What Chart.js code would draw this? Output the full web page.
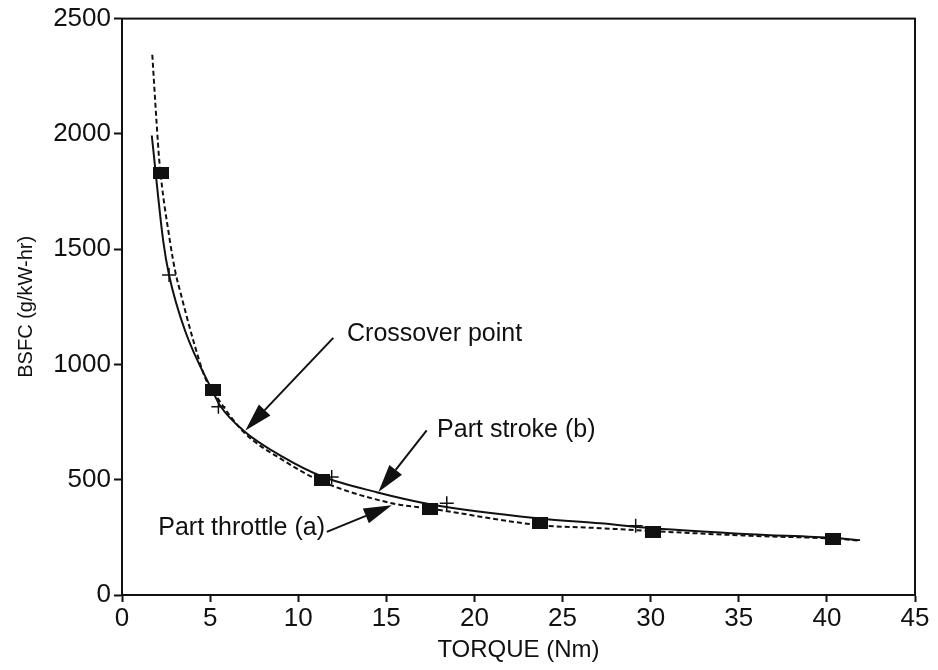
<!DOCTYPE html>
<html>
<head>
<meta charset="utf-8">
<title>BSFC vs Torque</title>
<script src="https://cdn.jsdelivr.net/npm/chart.js@4.4.1/dist/chart.umd.min.js"></script>
<style>
  html, body { margin: 0; padding: 0; background: #ffffff; }
  canvas { display: block; }
</style>
</head>
<body>
<canvas id="chart" width="938" height="670"></canvas>
<script>
// Axis ranges and tick steps
const torqueRange = [0, 45];
const torqueStep = 5;
const bsfcRange = [0, 2500];
const bsfcStep = 500;

// Part stroke (b): fitted curve (solid)
const strokeCurveTorque = [1.69, 2.34, 2.67, 3.58, 5.18, 5.56, 6.88, 9.15, 11.33, 14.45, 17.48, 23.72, 27.13, 30.14, 35.64, 40.47, 41.88];
const strokeCurveBsfc   = [1993, 1535, 1388, 1146, 878, 822, 714, 598, 515, 446, 394, 332, 311, 290, 264, 247, 238];

// Part throttle (a): fitted curve (dashed)
const throttleCurveTorque = [1.72, 1.97, 2.12, 2.72, 3.05, 3.29, 4.05, 4.71, 5.18, 6.88, 9.15, 11.33, 15.31, 17.48, 23.72, 27.13, 30.14, 35.64, 40.47, 41.88];
const throttleCurveBsfc   = [2343, 2040, 1881, 1535, 1393, 1320, 1103, 944, 882, 709, 584, 493, 398, 375, 303, 290, 277, 257, 244, 236];

// Measured points, part throttle (a): filled squares
const throttlePointTorque = [2.21, 5.18, 11.33, 17.48, 23.72, 30.15, 40.37];
const throttlePointBsfc   = [1829, 890, 497, 375, 311, 274, 245];

// Measured points, part stroke (b): plus marks
const strokePointTorque = [2.67, 5.47, 11.9, 18.43, 29.15];
const strokePointBsfc   = [1388, 817, 512, 398, 300];

// Callout labels: text, arrow tail, arrow tip and text anchor (data units)
const calloutText   = ['Crossover point', 'Part stroke (b)', 'Part throttle (a)'];
const calloutTail   = [[11.99, 1115], [17.29, 714], [11.62, 274]];
const calloutTip    = [[7.0, 714], [14.55, 447], [15.31, 389]];
const calloutAnchor = [[12.77, 1133], [17.88, 714], [11.52, 290]];
const calloutAlign  = ['left', 'left', 'right'];

const zip = (xs, ys) => xs.map((x, i) => ({ x: x, y: ys[i] }));

// Wide filled rectangle used as the square marker
const squareMarker = document.createElement('canvas');
squareMarker.width = 16;
squareMarker.height = 12;
(function () {
  const c = squareMarker.getContext('2d');
  c.fillStyle = '#111111';
  c.fillRect(0, 0, 16, 12);
})();

const FONT = '"Liberation Sans", Arial, Helvetica, sans-serif';

const frameAndCallouts = {
  id: 'frameAndCallouts',
  beforeDraw(chart) {
    const ctx = chart.ctx;
    ctx.save();
    ctx.fillStyle = '#ffffff';
    ctx.fillRect(0, 0, chart.width, chart.height);
    ctx.restore();
  },
  afterDatasetsDraw(chart) {
    const ctx = chart.ctx;
    const xs = chart.scales.x, ys = chart.scales.y;
    const a = chart.chartArea;
    ctx.save();
    // plot frame
    ctx.strokeStyle = '#111111';
    ctx.lineWidth = 2;
    ctx.strokeRect(a.left, a.top, a.right - a.left, a.bottom - a.top);

    // arrows and labels
    ctx.fillStyle = '#111111';
    ctx.font = '25px ' + FONT;
    ctx.textBaseline = 'middle';
    for (let i = 0; i < calloutText.length; i++) {
      const tx = xs.getPixelForValue(calloutTail[i][0]);
      const ty = ys.getPixelForValue(calloutTail[i][1]);
      const px = xs.getPixelForValue(calloutTip[i][0]);
      const py = ys.getPixelForValue(calloutTip[i][1]);
      const ang = Math.atan2(py - ty, px - tx);
      const headLen = 28, headHalf = 8;
      const bx = px - headLen * Math.cos(ang);
      const by = py - headLen * Math.sin(ang);
      ctx.lineWidth = 2;
      ctx.beginPath();
      ctx.moveTo(tx, ty);
      ctx.lineTo(bx, by);
      ctx.stroke();
      ctx.beginPath();
      ctx.moveTo(px, py);
      ctx.lineTo(bx + headHalf * Math.sin(ang), by - headHalf * Math.cos(ang));
      ctx.lineTo(bx - headHalf * Math.sin(ang), by + headHalf * Math.cos(ang));
      ctx.closePath();
      ctx.fill();

      ctx.textAlign = calloutAlign[i];
      ctx.fillText(calloutText[i],
        xs.getPixelForValue(calloutAnchor[i][0]),
        ys.getPixelForValue(calloutAnchor[i][1]));
    }
    ctx.restore();
  }
};

new Chart(document.getElementById('chart'), {
  type: 'scatter',
  data: {
    datasets: [
      {
        label: 'Part stroke (b)',
        data: zip(strokeCurveTorque, strokeCurveBsfc),
        showLine: true,
        borderColor: '#111111',
        borderWidth: 2,
        pointRadius: 0,
        cubicInterpolationMode: 'monotone'
      },
      {
        label: 'Part throttle (a)',
        data: zip(throttleCurveTorque, throttleCurveBsfc),
        showLine: true,
        borderColor: '#111111',
        borderWidth: 2,
        borderDash: [5, 3],
        pointRadius: 0,
        cubicInterpolationMode: 'monotone'
      },
      {
        label: 'Part throttle (a) data',
        data: zip(throttlePointTorque, throttlePointBsfc),
        pointStyle: squareMarker,
        pointRadius: 8
      },
      {
        label: 'Part stroke (b) data',
        data: zip(strokePointTorque, strokePointBsfc),
        pointStyle: 'cross',
        pointRadius: 7,
        borderColor: '#111111',
        borderWidth: 1.5
      }
    ]
  },
  options: {
    responsive: false,
    animation: false,
    layout: { padding: { left: 10, top: 17, right: 23, bottom: 5 } },
    plugins: {
      legend: { display: false },
      tooltip: { enabled: false }
    },
    scales: {
      x: {
        type: 'linear',
        min: torqueRange[0],
        max: torqueRange[1],
        ticks: {
          stepSize: torqueStep,
          color: '#111111',
          font: { family: FONT, size: 26 },
          padding: 1,
          maxRotation: 0,
          callback: (v) => String(v)
        },
        grid: {
          drawOnChartArea: false,
          drawTicks: true,
          tickLength: 7,
          tickWidth: 2,
          tickColor: '#111111'
        },
        border: { display: true, color: '#111111', width: 2 },
        title: {
          display: true,
          text: 'TORQUE (Nm)',
          color: '#111111',
          font: { family: FONT, size: 24 },
          padding: { top: 0, bottom: 0 }
        },
        afterFit(scale) { scale.height = 70; }
      },
      y: {
        type: 'linear',
        min: bsfcRange[0],
        max: bsfcRange[1],
        ticks: {
          stepSize: bsfcStep,
          color: '#111111',
          font: { family: FONT, size: 26 },
          padding: 3,
          callback: (v) => String(v)
        },
        grid: {
          drawOnChartArea: false,
          drawTicks: true,
          tickLength: 8,
          tickWidth: 2,
          tickColor: '#111111'
        },
        border: { display: true, color: '#111111', width: 2 },
        title: {
          display: true,
          text: 'BSFC (g/kW-hr)',
          color: '#111111',
          font: { family: FONT, size: 20 },
          padding: { top: 4, bottom: 0 }
        },
        afterFit(scale) { scale.width = 112; }
      }
    }
  },
  plugins: [frameAndCallouts]
});
</script>
</body>
</html>
